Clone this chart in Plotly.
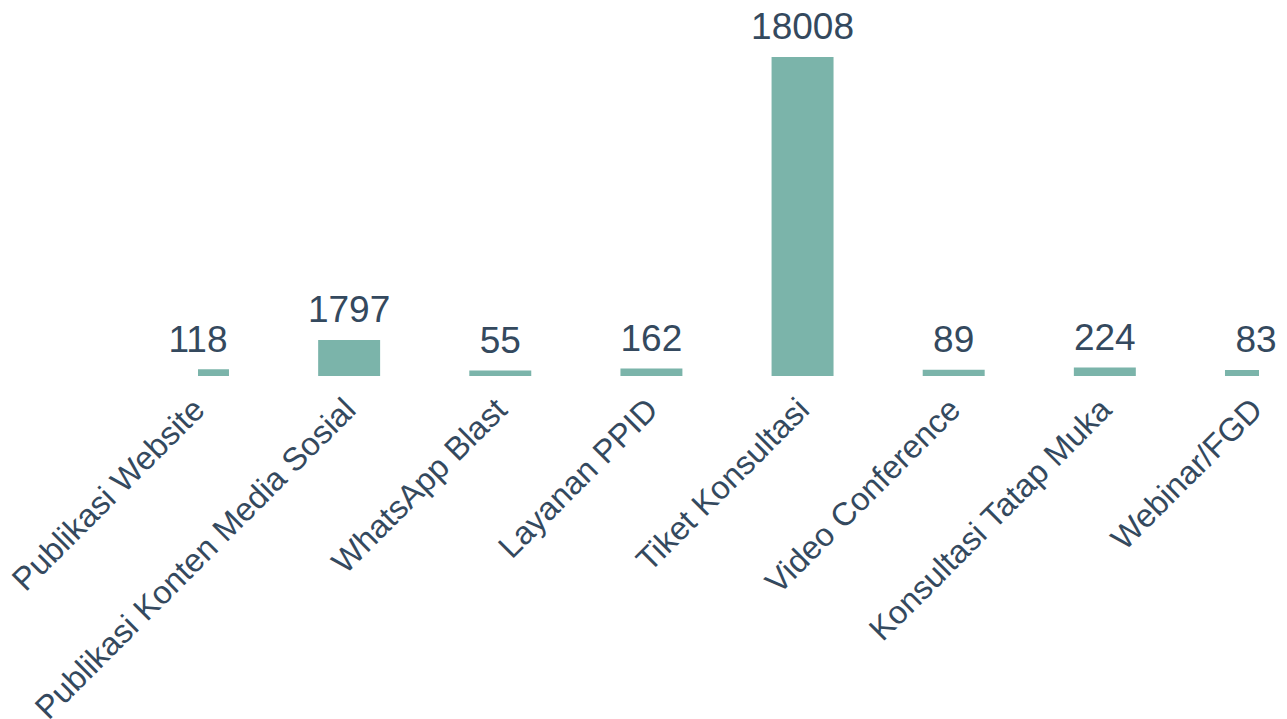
import plotly.graph_objects as go

# --- data
categories = ["Publikasi Website", "Publikasi Konten Media Sosial", "WhatsApp Blast",
              "Layanan PPID", "Tiket Konsultasi", "Video Conference",
              "Konsultasi Tatap Muka", "Webinar/FGD"]
values = [118, 1797, 55, 162, 18008, 89, 224, 83]

bar_color = "#7bb4aa"
text_color = "#34495e"
font_family = "Liberation Sans, Arial, sans-serif"
y_floor = -263  # bars start a little below zero, like the original

# --- plot
fig = go.Figure()
fig.add_trace(go.Bar(x=categories, y=[v - y_floor for v in values], base=y_floor,
                     marker=dict(color=bar_color, line=dict(width=0)),
                     width=0.41, hoverinfo="skip"))
fig.add_trace(go.Scatter(x=categories, y=values, mode="markers+text",
                         text=[str(v) for v in values],
                         marker=dict(size=12, opacity=0),
                         textposition="top center", cliponaxis=False,
                         textfont=dict(size=37, color=text_color, family=font_family),
                         hoverinfo="skip"))

# --- style
fig.update_layout(width=1287, height=719, showlegend=False,
                  margin=dict(l=190, r=36, t=2, b=351),
                  plot_bgcolor="white", paper_bgcolor="white",
                  font=dict(family=font_family, color=text_color))
fig.update_xaxes(range=[0, 7.02], tickangle=-45, showgrid=False, showline=False,
                 zeroline=False, ticks="", automargin=False,
                 ticklabelstandoff=7, ticklabelshift=-3,
                 tickfont=dict(size=32.5, color=text_color))
fig.update_yaxes(range=[y_floor, 20700], visible=False, showgrid=False,
                 zeroline=False, automargin=False)

fig.write_html("out.html")
